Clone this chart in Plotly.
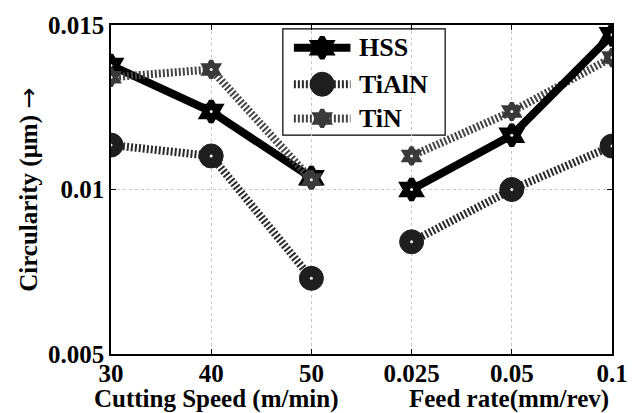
import plotly.graph_objects as go

# Circularity measurements for three tool materials
speed_labels = ["30", "40", "50"]          # cutting speed (m/min)
feed_labels = ["0.025", "0.05", "0.1"]     # feed rate (mm/rev)

hss_speed = [0.01377, 0.01237, 0.01036]
hss_feed = [0.01000, 0.01165, 0.01470]

tialn_speed = [0.01135, 0.01102, 0.00730]
tialn_feed = [0.00841, 0.01000, 0.01132]

tin_speed = [0.01341, 0.01365, 0.01030]
tin_feed = [0.01102, 0.01237, 0.01401]

materials = ["HSS", "TiAlN", "TiN"]

y_ticks = [0.005, 0.01, 0.015]
y_tick_text = ["0.005", "0.01", "0.015"]

tick_text = speed_labels + feed_labels
pos_speed = list(range(len(speed_labels)))
pos_feed = [len(speed_labels) + i for i in range(len(feed_labels))]

FONT = "Times New Roman, Liberation Serif, serif"

styles = {
    "HSS": dict(line=dict(color="#000000", width=8),
                marker=dict(symbol="hexagram", size=16, color="#000000",
                            line=dict(color="#000000", width=5))),
    "TiAlN": dict(line=dict(color="#2a2a2a", width=8, dash="2px,2px"),
                  marker=dict(symbol="circle", size=24, color="#1e1e1e",
                              line=dict(color="#1e1e1e", width=1))),
    "TiN": dict(line=dict(color="#444444", width=8, dash="2px,2px"),
                marker=dict(symbol="hexagram", size=13, color="#3a3a3a",
                            line=dict(color="#3a3a3a", width=4))),
}
series = {
    "HSS": (hss_speed, hss_feed),
    "TiAlN": (tialn_speed, tialn_feed),
    "TiN": (tin_speed, tin_feed),
}

fig = go.Figure()


def add_group(xs, idx, order):
    for name in order:
        fig.add_trace(go.Scatter(
            x=xs, y=series[name][idx], mode="lines+markers", name=name,
            showlegend=False, **styles[name]))
        # small white centre dot on each marker
        fig.add_trace(go.Scatter(
            x=xs, y=series[name][idx], mode="markers", showlegend=False,
            hoverinfo="skip",
            marker=dict(symbol="circle", size=3, color="#f4f4f4")))


# cutting-speed group: TiN drawn last
add_group(pos_speed, 0, ["HSS", "TiAlN", "TiN"])
# feed-rate group: HSS drawn last
add_group(pos_feed, 1, ["TiAlN", "TiN", "HSS"])

# key: sample line + marker per material on an overlay axis in plot-fraction units
key_rows = [0.931, 0.820, 0.716]
key_x0, key_x1, key_text_x = 0.365, 0.478, 0.492
for name, ky in zip(materials, key_rows):
    fig.add_trace(go.Scatter(
        x=[key_x0, key_x1], y=[ky, ky], mode="lines", showlegend=False,
        hoverinfo="skip", line=styles[name]["line"], xaxis="x2", yaxis="y2"))
    fig.add_trace(go.Scatter(
        x=[(key_x0 + key_x1) / 2], y=[ky], mode="markers", showlegend=False,
        hoverinfo="skip", marker=styles[name]["marker"], xaxis="x2", yaxis="y2"))
    fig.add_annotation(text=name, x=key_text_x, y=ky, xref="paper", yref="paper",
                       xanchor="left", yanchor="middle", showarrow=False,
                       font=dict(family=FONT, size=26, color="#000000", weight="bold"))

# key frame
fig.add_shape(type="rect", xref="paper", yref="paper",
              x0=0.343, x1=0.667, y0=0.665, y1=0.988,
              line=dict(color="#000000", width=1.2), fillcolor="#ffffff",
              layer="between")

axis_common = dict(
    showline=True, linecolor="#000000", linewidth=1.5, mirror="ticks",
    ticks="inside", ticklen=5, tickcolor="#000000",
    showgrid=True, gridcolor="#c8c8c8", griddash="dot", gridwidth=1,
    zeroline=False,
    tickfont=dict(family=FONT, size=25, color="#000000", weight="bold"),
)
fig.update_layout(
    xaxis=dict(range=[0, len(tick_text) - 1], tickmode="array",
               tickvals=pos_speed + pos_feed, ticktext=tick_text,
               ticklabelstandoff=-4, **axis_common),
    yaxis=dict(range=[0.005, 0.015], tickmode="array",
               tickvals=y_ticks, ticktext=y_tick_text, **axis_common),
    xaxis2=dict(overlaying="x", range=[0, 1], visible=False),
    yaxis2=dict(overlaying="y", range=[0, 1], visible=False),
)

title_font = dict(family=FONT, size=25, color="#000000", weight="bold")
fig.add_annotation(text="Cutting Speed (m/min)", x=1.05, xref="x",
                   y=-0.138, yref="paper", yanchor="middle",
                   showarrow=False, font=title_font)
fig.add_annotation(text="Feed rate(mm/rev)", x=3.97, xref="x",
                   y=-0.138, yref="paper", yanchor="middle",
                   showarrow=False, font=title_font)
fig.add_annotation(
    text="Circularity (μm) <span style=\"font-family:DejaVu Sans;font-weight:normal\">→</span>",
    textangle=-90, x=-0.165, xref="paper", y=0.5, yref="paper",
    xanchor="center", yanchor="middle", showarrow=False,
    font=dict(family=FONT, size=25, color="#000000", weight="bold"))

fig.update_layout(
    width=640, height=413,
    margin=dict(l=111, r=25, t=20, b=59),
    paper_bgcolor="#ffffff", plot_bgcolor="#ffffff",
    showlegend=False,
)

fig.write_html("out.html")
